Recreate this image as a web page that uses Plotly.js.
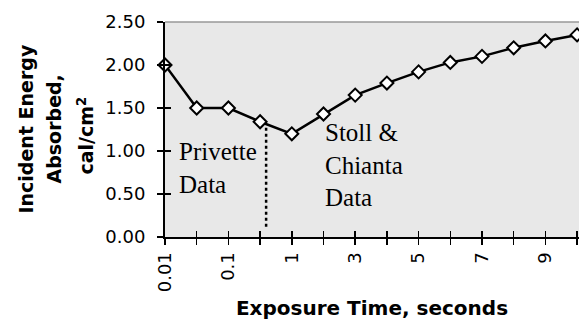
<!DOCTYPE html>
<html>
<head>
<meta charset="utf-8">
<script src="https://cdn.plot.ly/plotly-3.0.1.min.js"></script>
<style>html,body{margin:0;padding:0;background:#fff;}#chart{width:579px;height:320px;}</style>
</head>
<body>
<div id="chart"></div>
<script>
const exposureTimes = ['0.01','0.05','0.1','0.5','1','2','3','4','5','6','7','8','9','10'];
const energyAbsorbed = [2.00, 1.50, 1.50, 1.34, 1.20, 1.43, 1.65, 1.79, 1.92, 2.03, 2.10, 2.20, 2.28, 2.35];
const tickLabels = ['0.01',' ','0.1',' ','1',' ','3',' ','5',' ','7',' ','9',' '];

const sans = 'DejaVu Sans, Arial, sans-serif';
const serif = 'Liberation Serif, Times New Roman, serif';

const traces = [
  {
    x: exposureTimes, y: energyAbsorbed, xaxis: 'x2', yaxis: 'y2', type: 'scatter', mode: 'markers',
    marker: {size: 1, color: 'rgba(0,0,0,0)'}, hoverinfo: 'skip', showlegend: false
  },
  {
    x: exposureTimes, y: energyAbsorbed, type: 'scatter', mode: 'lines+markers',
    line: {color: '#000', width: 2.5},
    marker: {symbol: 'diamond', size: 10, color: '#fff', line: {color: '#000', width: 2}},
    cliponaxis: false, hoverinfo: 'skip', showlegend: false
  }
];

const xr = [0, 13.06];
const layout = {
  width: 579, height: 320,
  margin: {l: 165, r: 0, t: 22, b: 83},
  paper_bgcolor: '#fff', plot_bgcolor: '#e8e8e8',
  showlegend: false,
  xaxis: {
    type: 'category', range: xr, tickmode: 'array', tickvals: exposureTimes, ticktext: tickLabels,
    tickangle: -90, ticks: 'outside', ticklen: 6, tickwidth: 1.5, tickcolor: '#000',
    showline: true, linecolor: '#000', linewidth: 2, showgrid: false, zeroline: false,
    tickfont: {family: sans, size: 18, color: '#000'},
    title: {text: 'Exposure Time, seconds', font: {family: sans, size: 20, color: '#000', weight: 'bold'}, standoff: 10}
  },
  xaxis2: {
    type: 'category', range: xr, overlaying: 'x', side: 'bottom', anchor: 'y2', tickmode: 'array', tickvals: exposureTimes,
    ticks: 'inside', ticklen: 6, tickwidth: 1.5, tickcolor: '#000', showticklabels: false,
    showline: false, showgrid: false, zeroline: false
  },
  yaxis: {
    range: [0, 2.5], tickmode: 'linear', tick0: 0, dtick: 0.5, tickformat: '.2f',
    ticks: 'outside', ticklen: 6, tickwidth: 1.5, tickcolor: '#000',
    showline: true, linecolor: '#000', linewidth: 2, showgrid: false, zeroline: false,
    tickfont: {family: sans, size: 18, color: '#000'}, ticklabelstandoff: 8
  },
  yaxis2: {
    range: [0, 2.5], overlaying: 'y', side: 'left', anchor: 'x2', tickmode: 'linear', tick0: 0, dtick: 0.5,
    ticks: 'inside', ticklen: 6, tickwidth: 1.5, tickcolor: '#000', showticklabels: false,
    showline: false, showgrid: false, zeroline: false
  },
  shapes: [
    {type: 'line', xref: 'paper', yref: 'paper', x0: 0, x1: 1, y0: 1, y1: 1, line: {color: '#999', width: 1.5}},
    {type: 'line', xref: 'x', yref: 'y', x0: 3.19, x1: 3.19, y0: 1.27, y1: 0.1, line: {color: '#000', width: 2.5, dash: 'dot'}}
  ],
  annotations: [
    {xref: 'paper', yref: 'paper', x: 0, y: 0.5, xshift: -140, xanchor: 'center', yanchor: 'middle', textangle: -90,
     text: 'Incident Energy', showarrow: false, font: {family: sans, size: 19, color: '#000', weight: 'bold'}},
    {xref: 'paper', yref: 'paper', x: 0, y: 0.5, xshift: -112, xanchor: 'center', yanchor: 'middle', textangle: -90,
     text: 'Absorbed,', showarrow: false, font: {family: sans, size: 19, color: '#000', weight: 'bold'}},
    {xref: 'paper', yref: 'paper', x: 0, y: 0.5, xshift: -80, yshift: -6, xanchor: 'center', yanchor: 'middle', textangle: -90,
     text: 'cal/cm<sup>2</sup>', showarrow: false, font: {family: sans, size: 19, color: '#000', weight: 'bold'}},
    {xref: 'x', yref: 'y', x: 0.38, y: 0.80, xanchor: 'left', yanchor: 'middle', align: 'left',
     text: 'Privette<br>Data', showarrow: false, font: {family: serif, size: 25, color: '#000'}},
    {xref: 'x', yref: 'y', x: 4.97, y: 0.84, xanchor: 'left', yanchor: 'middle', align: 'left',
     text: 'Stoll &amp;<br>Chianta<br>Data', showarrow: false, font: {family: serif, size: 25, color: '#000'}}
  ]
};

Plotly.newPlot('chart', traces, layout, {staticPlot: true, displayModeBar: false});
</script>
</body>
</html>
